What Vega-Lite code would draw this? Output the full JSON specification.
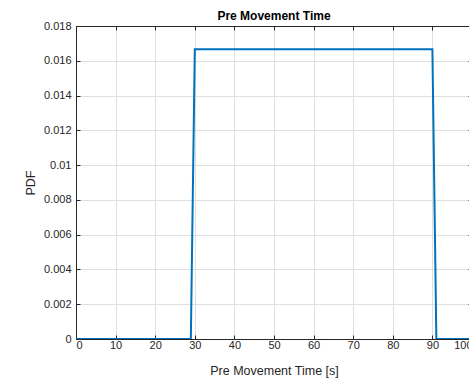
{
  "$schema": "https://vega.github.io/schema/vega-lite/v6.json",
  "width": 396,
  "height": 313,
  "autosize": "none",
  "padding": {"left": 76, "top": 26, "right": 0, "bottom": 41},
  "background": "white",
  "title": {"text": "Pre Movement Time", "font": "Liberation Sans", "fontSize": 12, "fontWeight": "bold", "color": "#000000", "offset": -3},
  "config": {
    "view": {"stroke": "#262626", "strokeWidth": 1},
    "axis": {
      "labelFont": "Liberation Sans",
      "labelFontSize": 11,
      "labelColor": "#262626",
      "titleFont": "Liberation Sans",
      "titleFontSize": 12.5,
      "titleFontWeight": "normal",
      "titleColor": "#262626",
      "domainColor": "#262626",
      "tickColor": "#262626",
      "gridColor": "#dfdfdf",
      "gridWidth": 1
    }
  },
  "data": {"values": [
    {"t": 0, "pdf": 0},
    {"t": 29, "pdf": 0},
    {"t": 30, "pdf": 0.016667},
    {"t": 90, "pdf": 0.016667},
    {"t": 91, "pdf": 0},
    {"t": 100, "pdf": 0}
  ]},
  "layer": [
    {
      "mark": {"type": "line", "color": "#0072BD", "strokeWidth": 2, "clip": true},
      "encoding": {
        "x": {"field": "t", "type": "quantitative", "scale": {"domain": [0, 100], "nice": false},
              "axis": {"orient": "bottom", "values": [0,10,20,30,40,50,60,70,80,90,100], "tickSize": -4, "labelPadding": 4, "title": "Pre Movement Time [s]", "titlePadding": 14, "grid": true, "format": "d"}},
        "y": {"field": "pdf", "type": "quantitative", "scale": {"domain": [0, 0.018], "nice": false, "zero": true},
              "axis": {"orient": "left", "values": [0,0.002,0.004,0.006,0.008,0.01,0.012,0.014,0.016,0.018], "tickSize": -4, "labelPadding": 9, "title": "PDF", "titlePadding": 6, "grid": true, "format": "~g"}}
      }
    },
    {
      "mark": {"type": "line", "opacity": 0},
      "encoding": {
        "x": {"field": "t", "type": "quantitative",
              "axis": {"orient": "top", "values": [0,10,20,30,40,50,60,70,80,90,100], "tickSize": -4, "labels": false, "title": null, "grid": false}},
        "y": {"field": "pdf", "type": "quantitative",
              "axis": {"orient": "right", "values": [0,0.002,0.004,0.006,0.008,0.01,0.012,0.014,0.016,0.018], "tickSize": -4, "labels": false, "title": null, "grid": false}}
      }
    }
  ],
  "resolve": {"axis": {"x": "independent", "y": "independent"}}
}
